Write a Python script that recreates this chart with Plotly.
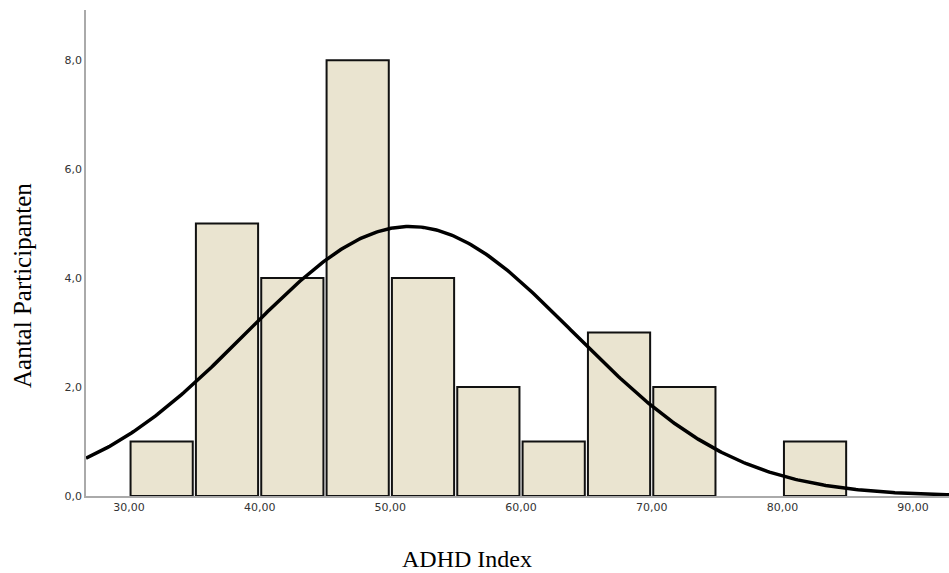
import numpy as np
import plotly.graph_objects as go

# Histogram data
bin_starts = [30, 35, 40, 45, 50, 55, 60, 65, 70, 75, 80]
counts = [1, 5, 4, 8, 4, 2, 1, 3, 2, 0, 1]
bin_width = 5

# Normal curve parameters
curve_mean = 51.5
curve_sd = 12.5

x_tick_vals = [30, 40, 50, 60, 70, 80, 90]
x_tick_text = ["30,00", "40,00", "50,00", "60,00", "70,00", "80,00", "90,00"]
y_tick_vals = [0, 2, 4, 6, 8]
y_tick_text = ["0,0", "2,0", "4,0", "6,0", "8,0"]

x_range = [26.71, 92.75]
y_range = [0, 8.92]

centers = [b + bin_width / 2 for b in bin_starts]
n_total = sum(counts)
outline_widths = [2 if c > 0 else 0 for c in counts]

xs = np.linspace(x_range[0], x_range[1], 400)
ys = n_total * bin_width / (curve_sd * np.sqrt(2 * np.pi)) * np.exp(-0.5 * ((xs - curve_mean) / curve_sd) ** 2)

fig = go.Figure()
fig.add_trace(go.Bar(
    x=centers, y=counts, width=4.76,
    marker=dict(color="#EAE4D0", line=dict(color="#111111", width=outline_widths)),
    hoverinfo="skip",
))
fig.add_trace(go.Scatter(
    x=xs, y=ys, mode="lines",
    line=dict(color="#000000", width=3.5),
    hoverinfo="skip", cliponaxis=True,
))

fig.update_layout(
    width=949, height=573,
    margin=dict(l=86, r=0, t=10, b=77),
    plot_bgcolor="white", paper_bgcolor="white",
    showlegend=False,
    xaxis=dict(
        range=x_range, tickmode="array", tickvals=x_tick_vals, ticktext=x_tick_text,
        showgrid=False, zeroline=False, showline=True, linecolor="#AAAAAA", linewidth=1.5,
        ticks="", tickfont=dict(family="DejaVu Sans", size=11, color="#333333"),
    ),
    yaxis=dict(
        range=y_range, tickmode="array", tickvals=y_tick_vals, ticktext=y_tick_text,
        showgrid=False, zeroline=False, showline=True, linecolor="#AAAAAA", linewidth=1.5,
        ticks="", tickfont=dict(family="DejaVu Sans", size=11, color="#333333"),
    ),
    annotations=[
        dict(text="ADHD Index", xref="paper", yref="paper", x=(467 - 86) / 863, y=0,
             xanchor="center", yanchor="middle", yshift=-63, showarrow=False,
             font=dict(family="Liberation Serif", size=24, color="#000000")),
        dict(text="Aantal Participanten", xref="paper", yref="paper", x=0, y=(496 - 286) / 486,
             xanchor="center", yanchor="middle", xshift=-64, textangle=-90, showarrow=False,
             font=dict(family="Liberation Serif", size=25, color="#000000")),
    ],
)

fig.write_html(
    "out.html",
    config={"displayModeBar": False},
    post_script="document.body.style.margin='0';document.body.style.padding='0';document.body.style.overflow='hidden';",
)
